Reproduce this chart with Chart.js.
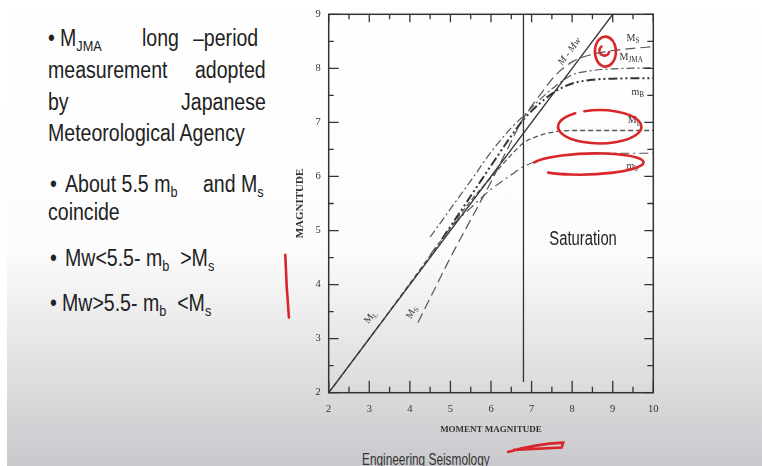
<!DOCTYPE html>
<html>
<head>
<meta charset="utf-8">
<script src="https://cdn.jsdelivr.net/npm/chart.js@4.4.0/dist/chart.umd.min.js"></script>
<style>
  html, body { margin: 0; padding: 0; }
  body {
    width: 762px; height: 466px; overflow: hidden; position: relative;
    background: linear-gradient(to bottom, #ffffff 0px, #fcfcfc 250px, #c9c9cd 466px);
  }
  #edge { position: absolute; left: 0; top: 0; width: 7px; height: 466px; background: #fff; }
  .t {
    position: absolute; font-family: "Liberation Sans", Arial, sans-serif;
    font-size: 23px; line-height: 23px; color: #222; white-space: pre;
    transform: scaleX(0.85); transform-origin: 0 0;
  }
  .t sub { font-size: 15px; vertical-align: -5px; line-height: 0; }
  .foot {
    position: absolute; left: 362px; top: 452px; font-family: "Liberation Sans", Arial, sans-serif;
    font-size: 16px; line-height: 16px; color: #333; white-space: pre;
    transform: scaleX(0.74); transform-origin: 0 0;
  }
  canvas { position: absolute; left: 0; top: 0; }
</style>
</head>
<body>
<div id="edge"></div>

<div class="t" style="left:48px; top:27px">•</div>
<div class="t" style="left:60px; top:27px">M<sub>JMA</sub></div>
<div class="t" style="left:142px; top:27px">long</div>
<div class="t" style="left:193px; top:27px">–period</div>
<div class="t" style="left:48px; top:59px">measurement</div>
<div class="t" style="left:195px; top:59px">adopted</div>
<div class="t" style="left:48px; top:91px">by</div>
<div class="t" style="left:181px; top:91px">Japanese</div>
<div class="t" style="left:48px; top:122px">Meteorological Agency</div>
<div class="t" style="left:50px; top:173px">•</div>
<div class="t" style="left:65px; top:173px">About 5.5 m<sub>b</sub></div>
<div class="t" style="left:203px; top:173px">and M<sub>s</sub></div>
<div class="t" style="left:48px; top:201px">coincide</div>
<div class="t" style="left:50px; top:247px">•</div>
<div class="t" style="left:65px; top:247px">Mw&lt;5.5- m<sub>b</sub>  &gt;M<sub>s</sub></div>
<div class="t" style="left:50px; top:292px">•</div>
<div class="t" style="left:62px; top:292px">Mw&gt;5.5- m<sub>b</sub>  &lt;M<sub>s</sub></div>

<div class="foot">Engineering Seismology</div>

<canvas id="chart" width="762" height="466"></canvas>

<script>
// axis ticks
const xTickLabels = ['2', '3', '4', '5', '6', '7', '8', '9', '10'];
const yTickLabels = ['2', '3', '4', '5', '6', '7', '8', '9'];

// M = Mw reference line
const mwX = [2, 9];
const mwY = [2, 9];

// local magnitude M_L
const mlX = [2, 3, 4, 5, 5.5, 6, 6.5, 6.8, 7.2, 7.6, 8, 9, 10];
const mlY = [2, 3, 4.02, 5.05, 5.55, 5.98, 6.4, 6.62, 6.76, 6.83, 6.85, 6.85, 6.85];

// surface wave magnitude M_S
const msX = [4.2, 4.6, 5, 5.5, 6, 6.4, 6.8, 7.2, 7.6, 8, 8.5, 9, 9.5, 10];
const msY = [3.3, 3.9, 4.5, 5.2, 5.9, 6.5, 7.08, 7.5, 7.88, 8.12, 8.26, 8.33, 8.37, 8.4];

// Japanese Meteorological Agency magnitude M_JMA
const jmaX = [4.5, 5, 5.5, 6, 6.5, 6.8, 7.2, 7.6, 8, 8.5, 9, 10];
const jmaY = [4.88, 5.4, 5.92, 6.45, 6.9, 7.12, 7.42, 7.68, 7.88, 7.96, 7.99, 8.01];

// long-period body wave magnitude m_B
const mBX = [4.8, 5.2, 5.6, 6, 6.5, 6.8, 7.2, 7.6, 8, 8.5, 9, 10];
const mBY = [4.85, 5.3, 5.75, 6.2, 6.75, 7.05, 7.35, 7.58, 7.72, 7.79, 7.81, 7.82];

// short-period body wave magnitude m_b
const mbX = [4.5, 5, 5.5, 6, 6.5, 6.8, 7.2, 7.6, 8, 8.5, 9, 10];
const mbY = [4.55, 5.05, 5.42, 5.76, 6.03, 6.18, 6.3, 6.37, 6.41, 6.43, 6.43, 6.43];

// saturation divider
const satX = [6.8, 6.8];
const satY = [2.2, 9];

const pts = (xs, ys) => xs.map((x, i) => ({ x: x, y: ys[i] }));

function line(data, dash, width, color) {
  return {
    data: data,
    showLine: true,
    borderColor: color,
    borderWidth: width,
    borderDash: dash,
    pointRadius: 0,
    tension: 0.4,
    cubicInterpolationMode: 'monotone',
    fill: false
  };
}

const serif = '"Liberation Serif", "Times New Roman", serif';

function subText(ctx, main, sub, x, y, size) {
  ctx.font = size + 'px ' + serif;
  ctx.textAlign = 'left';
  ctx.textBaseline = 'middle';
  ctx.fillText(main, x, y);
  const w = ctx.measureText(main).width;
  ctx.font = (size * 0.72) + 'px ' + serif;
  ctx.fillText(sub, x + w, y + size * 0.3);
}

// frame, inward ticks, curve labels and the red pen marks
const decorations = {
  id: 'decorations',
  afterDatasetsDraw(chart) {
    const { ctx, chartArea: a, scales: { x, y } } = chart;
    ctx.save();
    ctx.strokeStyle = '#333';
    ctx.lineWidth = 1.5;
    ctx.strokeRect(a.left, a.top, a.right - a.left, a.bottom - a.top);

    ctx.lineWidth = 1.3;
    ctx.beginPath();
    for (let v = 2; v <= 10; v += 0.5) {
      const px = x.getPixelForValue(v);
      const major = Number.isInteger(v);
      ctx.moveTo(px, a.bottom); ctx.lineTo(px, a.bottom - (major ? 12 : 6));
      ctx.moveTo(px, a.top); ctx.lineTo(px, a.top + (major ? 8 : 5));
    }
    for (let v = 2; v <= 9; v += 0.5) {
      const py = y.getPixelForValue(v);
      const major = Number.isInteger(v);
      ctx.moveTo(a.left, py); ctx.lineTo(a.left + (major ? 10 : 5), py);
      ctx.moveTo(a.right, py); ctx.lineTo(a.right - (major ? 9 : 6), py);
    }
    ctx.stroke();

    // curve labels
    ctx.fillStyle = '#333';
    subText(ctx, 'M', 'S', x.getPixelForValue(9.34), y.getPixelForValue(8.56), 10);
    subText(ctx, 'M', 'JMA', x.getPixelForValue(9.17), y.getPixelForValue(8.2), 10);
    subText(ctx, 'm', 'B', x.getPixelForValue(9.46), y.getPixelForValue(7.56), 10);
    subText(ctx, 'M', 'L', x.getPixelForValue(9.37), y.getPixelForValue(7.03), 10);
    subText(ctx, 'm', 'b', x.getPixelForValue(9.34), y.getPixelForValue(6.19), 10);

    const rotated = (draw, vx, vy, ang) => {
      ctx.save();
      ctx.translate(x.getPixelForValue(vx), y.getPixelForValue(vy));
      ctx.rotate(ang);
      draw();
      ctx.restore();
    };
    const slope = Math.atan2(y.getPixelForValue(9) - y.getPixelForValue(2), x.getPixelForValue(9) - x.getPixelForValue(2));
    rotated(() => {
      ctx.font = 'italic 10px ' + serif;
      ctx.textAlign = 'center'; ctx.textBaseline = 'middle';
      ctx.fillText('M - Mw', 0, 0);
    }, 7.94, 8.31, slope);
    rotated(() => subText(ctx, 'M', 'L', -6, 0, 10), 3.02, 3.39, slope);
    rotated(() => subText(ctx, 'M', 'S', -6, 0, 10), 4.04, 3.48, slope - 0.15);

    // saturation note
    ctx.save();
    ctx.translate(x.getPixelForValue(8.27), y.getPixelForValue(4.83));
    ctx.scale(0.74, 1);
    ctx.font = '20px "Liberation Sans", Arial, sans-serif';
    ctx.fillStyle = '#222';
    ctx.textAlign = 'center'; ctx.textBaseline = 'middle';
    ctx.fillText('Saturation', 0, 0);
    ctx.restore();

    // red pen marks
    ctx.strokeStyle = '#d9262b';
    ctx.lineWidth = 2.6;
    ctx.lineCap = 'round';
    const P = (vx, vy) => [x.getPixelForValue(vx), y.getPixelForValue(vy)];
    let c = P(8.82, 8.31);
    ctx.beginPath(); ctx.ellipse(c[0], c[1], 10.5, 15, 0, -0.2 * Math.PI, 1.75 * Math.PI); ctx.stroke();
    ctx.beginPath(); ctx.ellipse(c[0] - 1, c[1] - 1, 5, 5, 0, 0.1 * Math.PI, 1.3 * Math.PI); ctx.stroke();
    c = P(8.68, 6.92);
    ctx.beginPath(); ctx.ellipse(c[0], c[1], 41.7, 16.7, 0, -0.62 * Math.PI, 1.3 * Math.PI); ctx.stroke();
    c = P(8.38, 6.23);
    ctx.beginPath(); ctx.ellipse(c[0], c[1], 56, 10.5, -0.03, -0.9 * Math.PI, 0.75 * Math.PI); ctx.stroke();
    let s = P(0.93, 4.55), e = P(1.02, 3.39);
    ctx.beginPath(); ctx.moveTo(s[0], s[1]); ctx.quadraticCurveTo(s[0] + 1, (s[1] + e[1]) / 2, e[0], e[1]); ctx.stroke();
    s = P(6.42, 0.905); e = P(7.78, 1.077);
    ctx.beginPath(); ctx.moveTo(s[0], s[1]); ctx.quadraticCurveTo((s[0] + e[0]) / 2, s[1] - 8, e[0], e[1]);
    const e2 = P(7.74, 0.985);
    ctx.lineTo(e2[0], e2[1]); ctx.lineTo(s[0] + 6, s[1] - 2); ctx.stroke();
    ctx.restore();
  }
};

new Chart(document.getElementById('chart').getContext('2d'), {
  type: 'scatter',
  data: {
    datasets: [
      line(pts(mwX, mwY), [], 1.3, '#333'),
      line(pts(mlX, mlY), [5, 3], 1.3, '#555'),
      line(pts(msX, msY), [10, 5], 1.2, '#555'),
      line(pts(jmaX, jmaY), [8, 3, 2, 3], 1.2, '#555'),
      line(pts(mBX, mBY), [9, 3, 2, 3, 2, 3], 2, '#333'),
      line(pts(mbX, mbY), [9, 4, 2, 4], 1.2, '#555'),
      line(pts(satX, satY), [], 1.3, '#333')
    ]
  },
  options: {
    responsive: false,
    animation: false,
    layout: { padding: { left: 280, right: 108.7, top: 9, bottom: 20 } },
    plugins: { legend: { display: false }, tooltip: { enabled: false } },
    scales: {
      x: {
        type: 'linear', min: 2, max: 10,
        ticks: {
          stepSize: 1, padding: 10, color: '#333',
          font: { family: serif, size: 10.5 },
          callback: (v, i) => xTickLabels[i]
        },
        grid: { display: false, drawTicks: false },
        border: { display: false },
        title: {
          display: true, text: 'MOMENT MAGNITUDE', color: '#333',
          font: { family: serif, size: 9, weight: 'bold' },
          padding: { top: 0, bottom: 10.7 }
        },
        afterFit: s => { s.height = 53.3; }
      },
      y: {
        type: 'linear', min: 2, max: 9,
        ticks: {
          stepSize: 1, padding: 8, color: '#333',
          font: { family: serif, size: 10.5 },
          callback: (v, i) => yTickLabels[i]
        },
        grid: { display: false, drawTicks: false },
        border: { display: false },
        title: {
          display: true, text: 'MAGNITUDE', color: '#333',
          font: { family: serif, size: 11, weight: 'bold' },
          padding: { top: 13.4, bottom: 0 }
        },
        afterFit: s => { s.width = 48.7; }
      }
    }
  },
  plugins: [decorations]
});
</script>
</body>
</html>
